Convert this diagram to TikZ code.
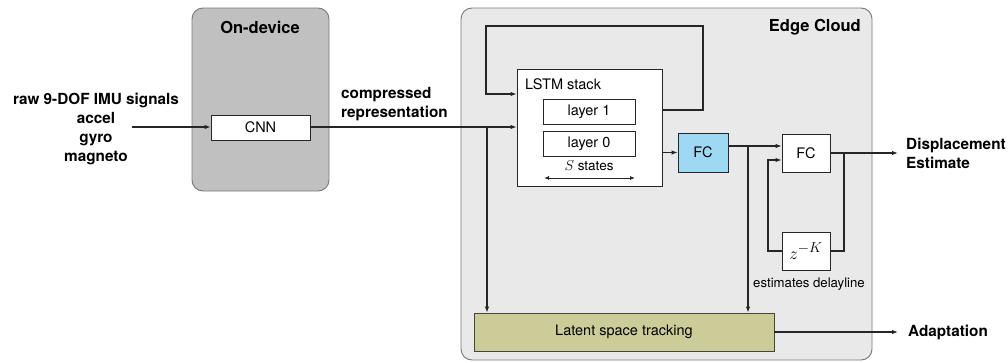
\documentclass[tikz,border=0pt]{standalone}
\usepackage{fontspec}
\setmainfont{TeX Gyre Heros}
\usetikzlibrary{arrows.meta}
\definecolor{devfill}{RGB}{192,192,192}
\definecolor{edgefill}{RGB}{233,233,233}
\definecolor{framegray}{RGB}{120,120,120}
\definecolor{fcblue}{RGB}{157,217,242}
\definecolor{latfill}{RGB}{204,204,153}
\definecolor{latdraw}{RGB}{70,70,50}
\tikzset{
  x=1pt, y=-1pt,
  region/.style={draw=framegray, line width=0.9pt, rounded corners=11pt, inner sep=0pt},
  blk/.style={draw=black!85, line width=0.9pt, fill=white, inner sep=0pt, font=\fontsize{14.5}{16}\selectfont},
  conn/.style={line width=1.1pt, black!85},
  arr/.style={conn, -{Latex[length=6pt,width=4.5pt]}},
  lbl/.style={font=\fontsize{15.3}{19}\selectfont\bfseries, inner sep=0pt},
  ttl/.style={font=\fontsize{16.5}{19}\selectfont\bfseries, inner sep=0pt},
}
\begin{document}
\begin{tikzpicture}
\useasboundingbox (0,0) rectangle (1008,362);
% regions
\node[region, fill=devfill, minimum width=137pt, minimum height=183pt] (ondev) at (260.5,99.5) {};
\node[region, fill=edgefill, minimum width=411pt, minimum height=352pt] (edge) at (666.5,184) {};
\node[ttl] (ondevt) at (260,27) {On-device};
\node[ttl, anchor=east] (edget) at (861,27) {Edge Cloud};
% blocks
\node[blk, minimum width=99pt, minimum height=25pt] (cnn) at (260.5,127.5) {CNN};
\node[blk, minimum width=145pt, minimum height=117pt] (lstm) at (589.5,127.5) {};
\node[inner sep=0pt, anchor=west, font=\fontsize{14.5}{16}\selectfont] (lstmt) at (525,84) {LSTM stack};
\node[blk, minimum width=92pt, minimum height=25pt] (l1) at (589,111.5) {layer 1};
\node[blk, minimum width=92pt, minimum height=25pt] (l0) at (589,143.5) {layer 0};
\node[inner sep=0pt, font=\fontsize{13.5}{15}\selectfont] (sst) at (589,166) {$S$ states};
\coordinate (sa) at (544,178);
\coordinate (sb) at (635,178);
\draw[conn, {Latex[length=5pt,width=4pt]}-{Latex[length=5pt,width=4pt]}, line width=0.9pt] (sa) -- (sb);
\node[blk, fill=fcblue, minimum width=50pt, minimum height=39pt] (fc1) at (703,152.5) {FC};
\node[blk, minimum width=48pt, minimum height=38pt] (fc2) at (806,153) {FC};
\node[blk, minimum width=48pt, minimum height=38pt, font=\fontsize{19}{20}\selectfont] (zk) at (806,251) {$z^{-K}$};
\node[inner sep=0pt, font=\fontsize{13.2}{15}\selectfont] (edl) at (809,284) {estimates delayline};
\node[blk, fill=latfill, draw=latdraw, minimum width=300pt, minimum height=38pt] (lat) at (624,332) {Latent space tracking};
% labels
\node[lbl, align=center] (inp) at (96,128.5) {raw 9-DOF IMU signals\\accel\\gyro\\magneto};
\node[lbl, align=left, anchor=west] (comp) at (341,104) {compressed\\representation};
\node[lbl, align=left, anchor=west] (disp) at (906,153) {Displacement\\Estimate};
\node[lbl, anchor=west] (adap) at (908,332) {Adaptation};
% connectors
\coordinate (in0) at (132,127);
\draw[arr] (in0) -- (cnn.west |- in0);
\draw[arr] (cnn.east |- in0) -- (lstm.west |- in0);
\coordinate (br1) at (487,127);
\draw[arr] (br1) -- (br1 |- lat.north);
% LSTM feedback
\coordinate (fbr) at (703,110);
\coordinate (fbl) at (486,26);
\coordinate (fbin) at (517,94);
\draw[arr] (lstm.east |- fbr) -- (fbr) -- (fbr |- fbl) -- (fbl) -- (fbl |- fbin) -- (lstm.west |- fbin);
\draw[arr] (lstm.east |- fc1.west) -- (fc1.west);
\coordinate (o1) at (728,146);
\draw[arr] (fc1.east |- o1) -- (fc2.west |- o1);
\coordinate (br2) at (748,146);
\draw[arr] (br2) -- (br2 |- lat.north);
% delay loop
\coordinate (dl) at (768,160);
\coordinate (dr) at (844,153);
\draw[arr] (zk.west) -- (dl |- zk.west) -- (dl) -- (fc2.west |- dl);
\draw[conn] (dr) -- (dr |- zk.east) -- (zk.east);
\draw[arr] (fc2.east) -- (disp.west -| 898,0);
\draw[arr] (lat.east) -- (898,332);
\end{tikzpicture}
\end{document}
